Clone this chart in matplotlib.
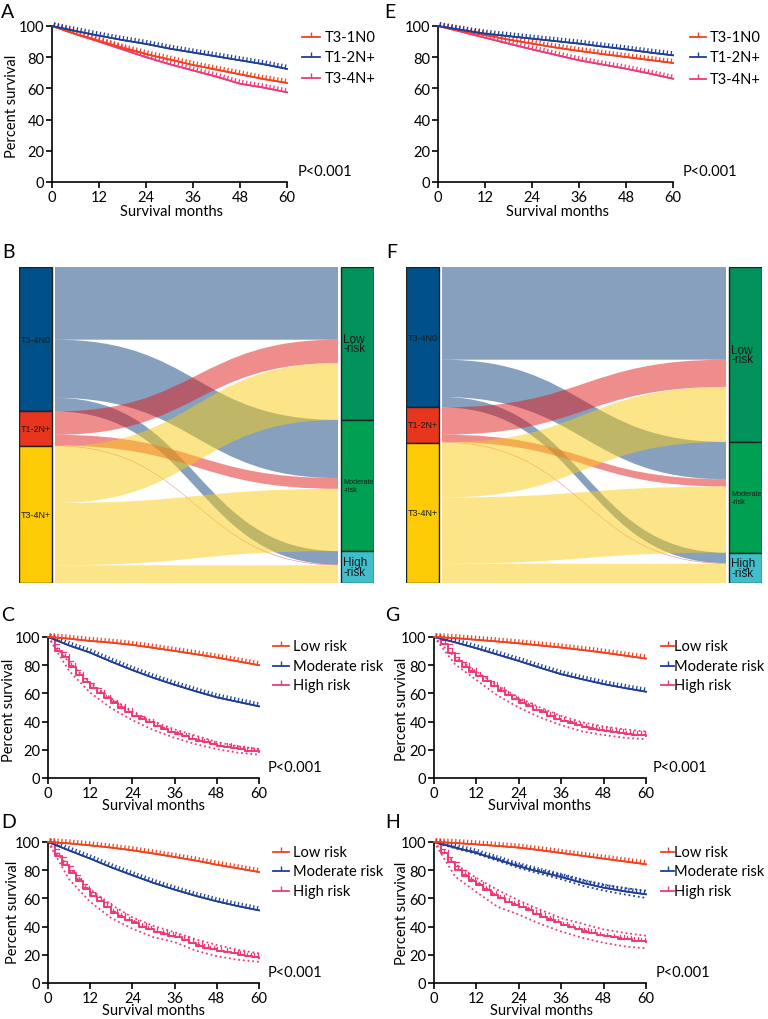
import matplotlib
matplotlib.use('Agg')
import matplotlib.pyplot as plt
import matplotlib.patheffects as pe
from matplotlib.path import Path
from matplotlib.patches import PathPatch, Rectangle
from matplotlib.lines import Line2D

W, H = 768, 1020
plt.rcParams['font.family'] = ['Lato', 'DejaVu Sans']

# ---------------- data ----------------
MONTHS = [0, 6, 12, 18, 24, 30, 36, 42, 48, 54, 60]
MONTHS_HR = [0, 2, 4, 6, 8, 10, 12, 14, 16, 18, 20, 22, 24, 26, 28, 30,
             32, 34, 36, 38, 40, 42, 44, 46, 48, 50, 52, 54, 56, 58, 60]
XTICKS = [0, 12, 24, 36, 48, 60]
YTICKS = [0, 20, 40, 60, 80, 100]

STAGE_LABELS = ['T3-1N0', 'T1-2N+', 'T3-4N+']
RISK_LABELS = ['Low risk', 'Moderate risk', 'High risk']

# A / E : stage groups
A_T31N0 = [100, 95.0, 90.5, 86.0, 82.0, 78.5, 75.0, 72.0, 69.0, 66.0, 63.5]
A_T12N = [100, 96.8, 93.8, 91.0, 88.5, 85.5, 83.0, 80.5, 78.0, 75.5, 72.5]
A_T34N = [100, 94.8, 90.0, 85.0, 80.0, 75.5, 71.5, 67.5, 63.0, 60.5, 57.5]

E_T31N0 = [100, 97.0, 94.2, 91.3, 88.7, 86.2, 84.0, 82.0, 80.1, 78.2, 76.3]
E_T12N = [100, 97.5, 95.1, 93.5, 91.9, 90.3, 88.7, 86.8, 85.0, 83.0, 81.2]
E_T34N = [100, 96.3, 92.5, 88.7, 85.0, 81.5, 78.0, 75.3, 72.6, 69.5, 66.2]

# C, D, G, H : risk groups
C_LOW = [100, 98.8, 97.2, 96.0, 94.4, 92.3, 90.1, 87.8, 85.4, 82.7, 80.0]
C_MOD = [100, 94.0, 88.9, 82.5, 76.5, 71.0, 66.1, 61.5, 57.2, 54.0, 50.8]
C_HIGH = [100, 90, 85.5, 79, 73, 68, 64, 60, 56.5, 53, 50, 47, 44, 41.5, 39.5, 37,
          34.5, 32.5, 31, 29.5, 28, 26.5, 25.5, 24, 23, 22, 21, 20.5, 19.5, 19, 18.5]
C_HIGH_HI = [100, 82, 67.5, 56.5, 47, 40, 34.5, 30, 25.5, 22.5, 20.5]
C_HIGH_LO = [100, 76, 60.5, 49.5, 41, 34, 28.5, 24, 20.5, 18, 16.5]

D_LOW = [100, 99.0, 97.6, 96.0, 94.1, 91.8, 89.4, 86.8, 83.9, 81.3, 78.7]
D_MOD = [100, 94.0, 88.2, 82.0, 76.4, 71.0, 66.2, 61.8, 57.9, 54.5, 51.5]
D_HIGH = [100, 90, 84, 78, 72, 66.5, 62, 58, 54, 50, 47, 44.5, 42.5, 40, 38, 36.5,
          35, 33.5, 32.5, 30.5, 28.5, 26.5, 25, 24, 23, 22, 21, 20, 19, 18.5, 18]
D_HIGH_HI = [100, 82, 66.5, 55.5, 46.5, 40.5, 36, 31, 27, 23.5, 21]
D_HIGH_LO = [100, 73.5, 57.5, 46, 38.5, 32.5, 29, 23, 19, 16.5, 15]

G_LOW = [100, 99.2, 98.0, 96.8, 95.5, 94.0, 92.5, 90.8, 88.9, 86.8, 84.7]
G_MOD = [100, 96.2, 92.0, 87.5, 83.0, 78.2, 73.6, 70.0, 66.6, 63.8, 61.2]
G_HIGH = [100, 95, 89, 83, 79, 75.5, 72.5, 69, 65.5, 62, 59, 56, 53.5, 51, 48.5, 46.5,
          44, 42, 40.5, 39, 37.5, 36, 35, 34, 33.5, 32.5, 32, 31, 30.5, 30.5, 30]
G_HIGH_HI = [100, 85.5, 75.5, 65.5, 57, 50, 44, 39.5, 36.5, 34.5, 33]
G_HIGH_LO = [100, 80.5, 69.5, 58.5, 50, 43, 37.5, 33, 30.5, 28.5, 27.5]

H_LOW = [100, 99.3, 98.3, 97.2, 96.0, 94.2, 92.2, 90.2, 88.2, 86.2, 84.2]
H_MOD = [100, 96.0, 92.2, 87.5, 82.7, 78.8, 75.2, 71.0, 67.6, 65.0, 62.9]
H_MOD_HI = [100, 96.5, 92.8, 88.3, 83.8, 80.0, 76.8, 73.0, 69.6, 67.3, 65.5]
H_MOD_LO = [100, 95.5, 91.6, 86.7, 81.6, 77.5, 73.6, 69.0, 65.6, 62.8, 60.3]
H_HIGH = [100, 92, 86, 80, 76, 72.5, 69.5, 66, 62.5, 60, 57.5, 55.5, 54, 51.5, 49, 47,
          45, 43, 41, 39.5, 38, 36.5, 35.5, 34, 33, 32.5, 31.5, 31, 30, 29.5, 29]
H_HIGH_HI = [100, 84.5, 74.5, 66, 58.5, 52, 46, 42, 38, 35.5, 33.5]
H_HIGH_LO = [100, 75.5, 64.5, 54, 48.5, 42, 36.5, 32, 28.5, 26, 24.5]

# sankey (B, F): percent of patients, rows = stage, cols = risk
SK_STAGES = ['T3-4N0', 'T1-2N+', 'T3-4N+']
SK_RISKS = ['Low\n-risk', 'Moderate\n-risk', 'High\n-risk']
B_FLOWS = [[23.0, 18.4, 4.3],
           [7.4, 3.4, 0.2],
           [18.0, 19.7, 5.6]]
F_FLOWS = [[29.3, 11.8, 3.3],
           [8.6, 2.3, 0.2],
           [17.4, 20.9, 6.1]]

# ---------------- colours ----------------
RED = '#F3411E'
BLUE = '#1F3E98'
PINK = '#EC3A7A'
STAGE_BAR = ['#00508A', '#E8351E', '#FCCB05']
STAGE_FLOW = ['#0F437D', '#E11A1A', '#FBCD15']
RISK_BAR = ['#00925A', '#00A052', '#40BFCB']

fig = plt.figure(figsize=(W / 100, H / 100), dpi=100)


def fx(x):
    return x / W


def fy(y):
    return 1 - y / H


def add_ax(l, t, r, b):
    return fig.add_axes([l / W, 1 - b / H, (r - l) / W, (b - t) / H])


def ftext(x, y, s, **kw):
    fig.text(fx(x), fy(y), s, **kw)


# censor marks drawn as small ticks along each curve
TICKS = [pe.withTickedStroke(angle=90, spacing=2.8, length=0.9, linewidth=0.9),
         pe.Normal()]


def km_axes(ax):
    ax.set_xlim(0, 60)
    ax.set_ylim(0, 100)
    ax.set_xticks(XTICKS)
    ax.set_yticks(YTICKS)
    for s in ['top', 'right']:
        ax.spines[s].set_visible(False)
    for s in ['left', 'bottom']:
        ax.spines[s].set_linewidth(1.2)
    ax.tick_params(direction='out', length=4, width=1.2, labelsize=10.5, pad=1.5)
    ax.patch.set_alpha(0)


def km_line(ax, t, s, color, steps=False):
    ax.plot(t, s, color=color, lw=1.2, clip_on=False,
            drawstyle='steps-post' if steps else 'default',
            path_effects=TICKS, zorder=3)


def ci_line(ax, t, s, color):
    ax.plot(t, s, color=color, lw=1.3, ls=(0, (1, 1.6)), clip_on=False, zorder=2)


def legend(rows, x0, x1, xt, labels, colors, fs=10.5):
    for y, lab, c in zip(rows, labels, colors):
        fig.add_artist(Line2D([fx(x0), fx(x1)], [fy(y), fy(y)], color=c, lw=1.3,
                              transform=fig.transFigure))
        fig.add_artist(Line2D([fx((x0 + x1) / 2)], [fy(y)], color=c, marker=2,
                              ms=3.5, mew=1.0, transform=fig.transFigure))
        ftext(xt, y, lab, ha='left', va='center', fontsize=fs)


def sankey(rect, flows):
    l, t, r, b = rect
    ax = add_ax(l, t, r, b)
    total = sum(sum(row) for row in flows)
    ax.set_xlim(0, r - l)
    ax.set_ylim(total, 0)
    ax.axis('off')
    lw_bar = 33
    x0, x1 = 36, (r - l) - 36
    left_sz = [sum(row) for row in flows]
    right_sz = [sum(flows[i][j] for i in range(3)) for j in range(3)]
    ltop = [sum(left_sz[:i]) for i in range(3)]
    rtop = [sum(right_sz[:j]) for j in range(3)]
    xm = (x0 + x1) / 2
    for i in range(3):
        for j in range(3):
            v = flows[i][j]
            a0 = ltop[i] + sum(flows[i][:j])
            b0 = rtop[j] + sum(flows[k][j] for k in range(i))
            verts = [(x0, a0), (xm, a0), (xm, b0), (x1, b0), (x1, b0 + v),
                     (xm, b0 + v), (xm, a0 + v), (x0, a0 + v), (x0, a0)]
            codes = [Path.MOVETO, Path.CURVE4, Path.CURVE4, Path.CURVE4, Path.LINETO,
                     Path.CURVE4, Path.CURVE4, Path.CURVE4, Path.CLOSEPOLY]
            ax.add_patch(PathPatch(Path(verts, codes), fc=STAGE_FLOW[i], alpha=0.5,
                                   lw=0, zorder=1))
    for i in range(3):
        ax.add_patch(Rectangle((0, ltop[i]), lw_bar, left_sz[i], fc=STAGE_BAR[i],
                               ec='#222222', lw=1.0, zorder=3))
        ax.text(lw_bar / 2, ltop[i] + left_sz[i] / 2, SK_STAGES[i], ha='center',
                va='center', fontsize=6.5, color='#1a1a1a', family='Liberation Sans',
                zorder=4)
    rx = (r - l) - lw_bar
    for j in range(3):
        ax.add_patch(Rectangle((rx, rtop[j]), lw_bar, right_sz[j], fc=RISK_BAR[j],
                               ec='#222222', lw=1.0, zorder=3))
        fs = 5.2 if j == 1 else 8.5
        ax.text(rx + 2.5, rtop[j] + right_sz[j] / 2, SK_RISKS[j], ha='left',
                va='center', fontsize=fs, color='#1a1a1a', family='Liberation Sans',
                linespacing=0.75 if j != 1 else 1.3, zorder=4)
    return ax


# ---------------- panel A ----------------
ax = add_ax(52, 27, 287, 183)
km_axes(ax)
km_line(ax, MONTHS, A_T34N, PINK)
km_line(ax, MONTHS, A_T31N0, RED)
km_line(ax, MONTHS, A_T12N, BLUE)
legend([38, 58, 79], 302, 320, 325, STAGE_LABELS, [RED, BLUE, PINK])
ftext(298, 172, 'P<0.001', ha='left', va='center', fontsize=10.5)
ftext(12, 106, 'Percent survival', rotation=90, ha='center', va='center', fontsize=10.5)
ftext(171, 212, 'Survival months', ha='center', va='center', fontsize=10.5)

# ---------------- panel E ----------------
ax = add_ax(438, 27, 673, 183)
km_axes(ax)
km_line(ax, MONTHS, E_T34N, PINK)
km_line(ax, MONTHS, E_T31N0, RED)
km_line(ax, MONTHS, E_T12N, BLUE)
legend([38, 58, 80], 690, 706, 710, STAGE_LABELS, [RED, BLUE, PINK])
ftext(683, 172, 'P<0.001', ha='left', va='center', fontsize=10.5)
ftext(558, 212, 'Survival months', ha='center', va='center', fontsize=10.5)

# ---------------- panels B, F ----------------
sankey((19, 268, 374, 584), B_FLOWS)
sankey((406, 268, 762, 584), F_FLOWS)


# ---------------- panels C, D, G, H ----------------
def risk_panel(rect, low, mod, high, hi_up, hi_lo, mod_up=None, mod_lo=None):
    ax = add_ax(*rect)
    km_axes(ax)
    ci_line(ax, MONTHS, hi_up, PINK)
    ci_line(ax, MONTHS, hi_lo, PINK)
    if mod_up is not None:
        ci_line(ax, MONTHS, mod_up, BLUE)
        ci_line(ax, MONTHS, mod_lo, BLUE)
    km_line(ax, MONTHS_HR, high, PINK, steps=True)
    km_line(ax, MONTHS, mod, BLUE)
    km_line(ax, MONTHS, low, RED)
    return ax


risk_panel((48, 638, 259, 779), C_LOW, C_MOD, C_HIGH, C_HIGH_HI, C_HIGH_LO)
legend([647, 667, 686], 273, 289, 293, RISK_LABELS, [RED, BLUE, PINK])
ftext(268, 768, 'P<0.001', ha='left', va='center', fontsize=10.5)
ftext(9, 710, 'Percent survival', rotation=90, ha='center', va='center', fontsize=10.5)
ftext(153, 806, 'Survival months', ha='center', va='center', fontsize=10.5)

risk_panel((48, 843, 259, 984), D_LOW, D_MOD, D_HIGH, D_HIGH_HI, D_HIGH_LO)
legend([853, 872, 892], 273, 289, 293, RISK_LABELS, [RED, BLUE, PINK])
ftext(268, 973, 'P<0.001', ha='left', va='center', fontsize=10.5)
ftext(13, 912, 'Percent survival', rotation=90, ha='center', va='center', fontsize=10.5)
ftext(153, 1011, 'Survival months', ha='center', va='center', fontsize=10.5)

risk_panel((434, 638, 646, 779), G_LOW, G_MOD, G_HIGH, G_HIGH_HI, G_HIGH_LO)
legend([647, 667, 686], 661, 674, 674, RISK_LABELS, [RED, BLUE, PINK])
ftext(653, 768, 'P<0.001', ha='left', va='center', fontsize=10.5)
ftext(402, 709, 'Percent survival', rotation=90, ha='center', va='center', fontsize=10.5)
ftext(539, 806, 'Survival months', ha='center', va='center', fontsize=10.5)

risk_panel((434, 843, 646, 984), H_LOW, H_MOD, H_HIGH, H_HIGH_HI, H_HIGH_LO,
           H_MOD_HI, H_MOD_LO)
legend([853, 872, 892], 661, 674, 674, RISK_LABELS, [RED, BLUE, PINK])
ftext(656, 973, 'P<0.001', ha='left', va='center', fontsize=10.5)
ftext(402, 913, 'Percent survival', rotation=90, ha='center', va='center', fontsize=10.5)
ftext(541, 1011, 'Survival months', ha='center', va='center', fontsize=10.5)

# ---------------- panel letters ----------------
for lab, x, y in [('A', 1, 12), ('E', 384, 12), ('B', 2, 253), ('F', 386, 253),
                  ('C', 1, 616), ('G', 385, 616), ('D', 1, 823), ('H', 385, 823)]:
    ftext(x, y, lab, ha='left', va='center', fontsize=14)

fig.savefig('out.png', dpi=100)
